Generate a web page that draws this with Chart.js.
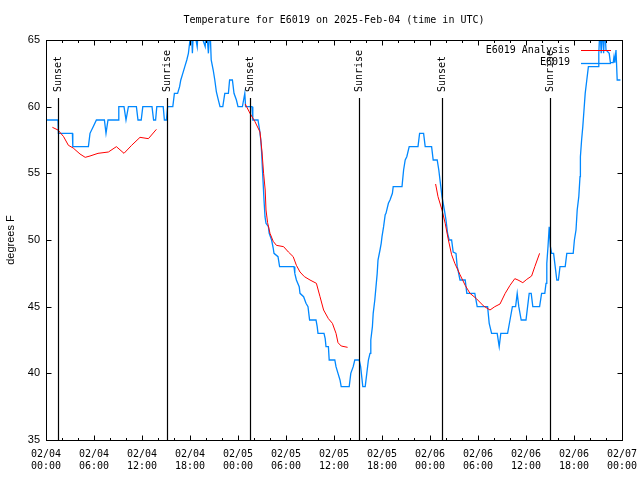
<!DOCTYPE html>
<html>
<head>
<meta charset="utf-8">
<title>Temperature for E6019</title>
<script src="https://cdn.jsdelivr.net/npm/chart.js@4.4.1/dist/chart.umd.min.js"></script>
<style>
  body { margin: 0; background: #fff; }
  #wrap { width: 640px; height: 480px; }
</style>
</head>
<body>
<div id="wrap"><canvas id="myChart" width="640" height="480"></canvas></div>
<script>
// time axis = hours since 02/04 00:00 UTC

const obsHours = [0, 1.5, 1.55, 3.3, 3.35, 5.3, 5.5, 5.9, 6.3, 6.95, 7.3, 7.5, 7.75, 9.0, 9.1, 9.75, 10.0, 10.3, 11.3, 11.5, 11.9, 12.1,
  13.25, 13.45, 13.7, 13.85, 14.65, 14.8, 15.05, 15.2, 15.85, 16.05, 16.45, 16.7, 16.85, 17.1, 17.35, 17.6, 17.8, 18.0,
  18.15, 18.3, 18.45, 18.9, 19.05, 19.9, 20.05, 20.3, 20.5, 20.65, 20.9, 21.1, 21.3, 21.5, 21.75, 22.1, 22.35, 22.8, 22.95,
  23.3, 23.5, 23.8, 24.0, 24.55, 24.7, 24.85, 24.95, 25.75, 25.85, 26.5, 26.7, 26.85, 26.95, 27.08, 27.25, 27.375, 27.5,
  27.8, 27.9, 28.2, 28.4, 28.5, 29.0, 29.2, 31.0, 31.1, 31.3, 31.65, 31.75, 32.2, 32.5, 32.75, 32.95, 33.75, 33.9, 34.0,
  34.75, 34.9, 35.0, 35.3, 35.4, 36.1, 36.25, 36.5, 36.75, 36.9, 37.9, 38.1, 38.4, 38.6, 39.15, 39.33, 39.6, 39.9, 40.1,
  40.3, 40.5, 40.6, 40.8, 40.9, 41.1, 41.25, 41.4, 41.5, 41.75, 41.9, 42.0, 42.2, 42.4, 42.5, 42.8, 43.0, 43.3, 43.4,
  44.5, 44.7, 44.9, 45.1, 45.4, 46.5, 46.7, 47.2, 47.4, 48.2, 48.4, 48.9, 49.1, 49.3, 49.5, 49.8, 50.0, 50.2, 50.4,
  50.7, 50.9, 51.25, 51.4, 51.5, 51.75, 52.4, 52.6, 53.6, 53.9, 55.2, 55.4, 55.7, 56.4, 56.65, 56.85, 57.7, 58.0, 58.3,
  58.7, 58.9, 59.1, 59.4, 60.0, 60.2, 60.4, 60.65, 60.85, 61.7, 61.95, 62.35, 62.5, 62.6, 62.75, 62.9, 63.05, 63.2,
  63.45, 63.65, 63.85, 64.05, 64.25, 64.9, 65.1, 65.9, 66.05, 66.25, 66.4, 66.6, 66.75, 66.8, 66.95, 67.1, 67.25, 67.4,
  67.6, 67.8, 69.0, 69.1, 69.25, 69.4, 69.55, 69.7, 69.85, 70.0, 70.4, 70.55, 70.9, 71.0, 71.1, 71.25, 71.4, 71.8];
const obsTemps = [59, 59, 58, 58, 57, 57, 58, 58.5, 59, 59, 59, 58, 59, 59, 60, 60, 59, 60, 60, 59, 59, 60,
  60, 59, 59, 60, 60, 59, 59, 60, 60, 61, 61, 61.5, 62, 62.5, 63, 63.5, 64, 65,
  66, 64, 66, 64.5, 66, 64.5, 66, 64, 66, 63.5, 62.75, 62, 61.1, 60.6, 60, 60, 61, 61, 62,
  62, 61, 60.5, 60, 60, 60.5, 61, 60, 60, 59, 59, 58.25, 57.5, 56.6, 55, 53, 51.75, 51.25,
  51, 50.5, 50, 49.4, 49, 48.75, 48, 48, 47.5, 47, 46.5, 46, 45.75, 45.25, 45, 44, 44, 43.5, 43,
  43, 42.6, 42, 42, 41, 41, 40.5, 40, 39.5, 39, 39, 40, 40.5, 41, 41, 40.5, 39, 39, 40,
  41, 41.5, 42.5, 43.5, 44.5, 45.5, 46.5, 47.5, 48.5, 49.25, 49.75, 50.25, 51, 51.9, 52, 52.75, 53, 53.5, 54,
  54, 55.25, 56, 56.25, 57, 57, 58, 58, 57, 57, 56, 56, 55.25, 54.25, 53.25, 52.25, 51.5, 50.5, 50,
  50, 49.1, 49, 48, 47.75, 47, 47, 46, 46, 45, 45, 43.75, 43, 43, 42, 43, 43, 44, 45,
  45, 46, 45, 44, 44, 45, 46, 46, 45, 45, 46, 46, 46.75, 48.25, 49.5, 51, 49.5, 49,
  49, 48, 47, 47, 48, 48, 49, 49, 50, 50.75, 52.25, 53.25, 54.75, 56.25, 57.5, 58.5, 59.75, 61,
  62, 63, 63, 64, 66, 64, 66, 64, 66, 64.25, 64, 63.3, 63.3, 63.75, 63.3, 64.25, 62, 62];

// E6019 Analysis (null = no analysis between runs)
const anaHours = [0.8, 1.5, 2.2, 2.8, 3.4, 4.25, 4.9, 5.5, 6.5, 7.8, 8.8, 9.75, 10.7, 11.75, 12.8, 13.8,
  19,
  24.9, 25.5, 26.1, 26.75, 27.0, 27.2, 27.4, 27.5, 27.7, 28.0, 28.4, 28.8, 29.7, 30.3, 30.9, 31.3, 31.75, 32.3, 33.0,
  33.8, 34.25, 34.7, 35.3, 35.8, 36.25, 36.5, 36.9, 37.7,
  43,
  48.7, 49.0, 49.5, 49.9, 50.3, 50.7, 51.1, 51.75, 52.4, 53.0, 53.8, 54.7, 55.5, 56.1, 56.75, 57.4, 58.0, 58.6, 59.0,
  59.6, 60.1, 60.7, 61.1, 61.4, 61.7];
const anaTemps = [58.45, 58.25, 57.75, 57.1, 56.9, 56.45, 56.2, 56.3, 56.5, 56.6, 57.0, 56.5, 57.1, 57.7, 57.6, 58.3,
  null,
  60.2, 59.5, 58.9, 58.1, 56.6, 55, 53.75, 52.25, 51.3, 50.5, 49.9, 49.6, 49.5, 49.1, 48.75, 48.1, 47.6, 47.25, 47.0,
  46.75, 45.75, 44.75, 44.1, 43.75, 43, 42.3, 42.05, 41.95,
  null,
  54.2, 53.25, 52.25, 51.25, 50, 48.9, 48.25, 47.4, 46.6, 46, 45.6, 45.05, 44.75, 45, 45.2, 46, 46.6, 47.1, 47.0,
  46.8, 47.05, 47.3, 48, 48.5, 49.0];

// sunrise / sunset markers
const sunLabels = ['Sunset', 'Sunrise', 'Sunset', 'Sunrise', 'Sunset', 'Sunrise'];
const sunHours = [1.54, 15.15, 25.55, 39.17, 49.55, 63.06];
const sunLineTop = 60.65;

// x tick labels, one per 6 hours
const xTickDates = ['02/04', '02/04', '02/04', '02/04', '02/05', '02/05', '02/05', '02/05', '02/06', '02/06', '02/06', '02/06', '02/07'];
const xTickTimes = ['00:00', '06:00', '12:00', '18:00', '00:00', '06:00', '12:00', '18:00', '00:00', '06:00', '12:00', '18:00', '00:00'];

const MONO = '"DejaVu Sans Mono", monospace';
const SANS = '"Liberation Sans", Arial, sans-serif';

// frame, inward ticks, sun lines, title, legend
const gnuplotLook = {
    id: 'gnuplotLook',
    afterDatasetsDraw(chart) {
        const ctx = chart.ctx;
        const a = chart.chartArea;
        const xs = chart.scales.x;
        const ys = chart.scales.y;
        ctx.save();
        ctx.strokeStyle = '#000';
        ctx.fillStyle = '#000';

        // sunrise / sunset lines
        ctx.lineWidth = 1.2;
        const yTop = ys.getPixelForValue(sunLineTop);
        ctx.font = '10px ' + MONO;
        sunHours.forEach((h, i) => {
            const x = Math.round(xs.getPixelForValue(h)) + 0.5;
            ctx.beginPath();
            ctx.moveTo(x, a.bottom);
            ctx.lineTo(x, yTop);
            ctx.stroke();
            ctx.save();
            ctx.translate(x, yTop - 6);
            ctx.rotate(-Math.PI / 2);
            ctx.textAlign = 'left';
            ctx.textBaseline = 'middle';
            ctx.fillText(sunLabels[i], 0, 0);
            ctx.restore();
        });

        // frame
        ctx.lineWidth = 1;
        const L = Math.round(a.left) + 0.5, R = Math.round(a.right) + 0.5;
        const T = Math.round(a.top) + 0.5, B = Math.round(a.bottom) + 0.5;
        ctx.strokeRect(L, T, R - L, B - T);

        // ticks pointing in
        ctx.beginPath();
        for (let v = ys.min; v <= ys.max; v += 5) {
            const y = Math.round(ys.getPixelForValue(v)) + 0.5;
            ctx.moveTo(L, y); ctx.lineTo(L + 5, y);
            ctx.moveTo(R, y); ctx.lineTo(R - 5, y);
        }
        for (let h = xs.min; h <= xs.max; h += 2) {
            const x = Math.round(xs.getPixelForValue(h)) + 0.5;
            const len = (h % 6 === 0) ? 5 : 2.5;
            ctx.moveTo(x, B); ctx.lineTo(x, B - len);
            ctx.moveTo(x, T); ctx.lineTo(x, T + len);
        }
        ctx.stroke();

        // title
        ctx.font = '10px ' + MONO;
        ctx.textAlign = 'center';
        ctx.textBaseline = 'middle';
        ctx.fillText('Temperature for E6019 on 2025-Feb-04 (time in UTC)', (a.left + a.right) / 2, 20);

        // legend, top right inside the plot
        chart.data.datasets.forEach((ds, i) => {
            const y = a.top + 10 + i * 12.5;
            ctx.fillStyle = '#000';
            ctx.textAlign = 'right';
            ctx.fillText(ds.label, a.right - 52, y);
            ctx.strokeStyle = ds.borderColor;
            ctx.lineWidth = ds.borderWidth;
            ctx.beginPath();
            ctx.moveTo(a.right - 41, Math.round(y) + 0.5);
            ctx.lineTo(a.right - 11, Math.round(y) + 0.5);
            ctx.stroke();
        });
        ctx.restore();
    }
};

const ctx = document.getElementById('myChart').getContext('2d');
const myChart = new Chart(ctx, {
    type: 'line',
    data: {
        datasets: [
            {
                label: 'E6019 Analysis',
                data: anaHours.map((h, i) => ({x: h, y: anaTemps[i]})),
                borderColor: '#ff0000',
                borderWidth: 1,
                pointRadius: 0,
                spanGaps: false,
                tension: 0
            },
            {
                label: 'E6019',
                data: obsHours.map((h, i) => ({x: h, y: obsTemps[i]})),
                borderColor: 'rgb(0, 136, 255)',
                borderWidth: 1.3,
                pointRadius: 0,
                tension: 0
            }
        ]
    },
    options: {
        responsive: false,
        animation: false,
        layout: {padding: {top: 40, right: 18, left: 0, bottom: 0}},
        plugins: {
            legend: {display: false},
            tooltip: {enabled: false},
            title: {display: false}
        },
        scales: {
            x: {
                type: 'linear',
                min: 0,
                max: 72,
                grid: {display: false, drawTicks: false},
                border: {display: false},
                afterFit: (scale) => {
                    scale.height = 40;
                    // let the end labels hang outside the plot like gnuplot does
                    scale.paddingLeft = 0;
                    scale.paddingRight = 0;
                },
                ticks: {
                    stepSize: 6,
                    autoSkip: false,
                    maxRotation: 0,
                    padding: 8,
                    color: '#000',
                    font: {family: MONO, size: 10, lineHeight: 1.25},
                    callback: (value, index) => [xTickDates[index], xTickTimes[index]]
                }
            },
            y: {
                min: 35,
                max: 65,
                grid: {display: false, drawTicks: false},
                border: {display: false},
                afterFit: (scale) => { scale.width = 46; },
                ticks: {
                    stepSize: 5,
                    padding: 6,
                    color: '#000',
                    font: {family: SANS, size: 11}
                },
                title: {
                    display: true,
                    text: 'degrees F',
                    color: '#000',
                    padding: {top: 4, bottom: 0},
                    font: {family: SANS, size: 11}
                }
            }
        }
    },
    plugins: [gnuplotLook]
});
</script>
</body>
</html>
